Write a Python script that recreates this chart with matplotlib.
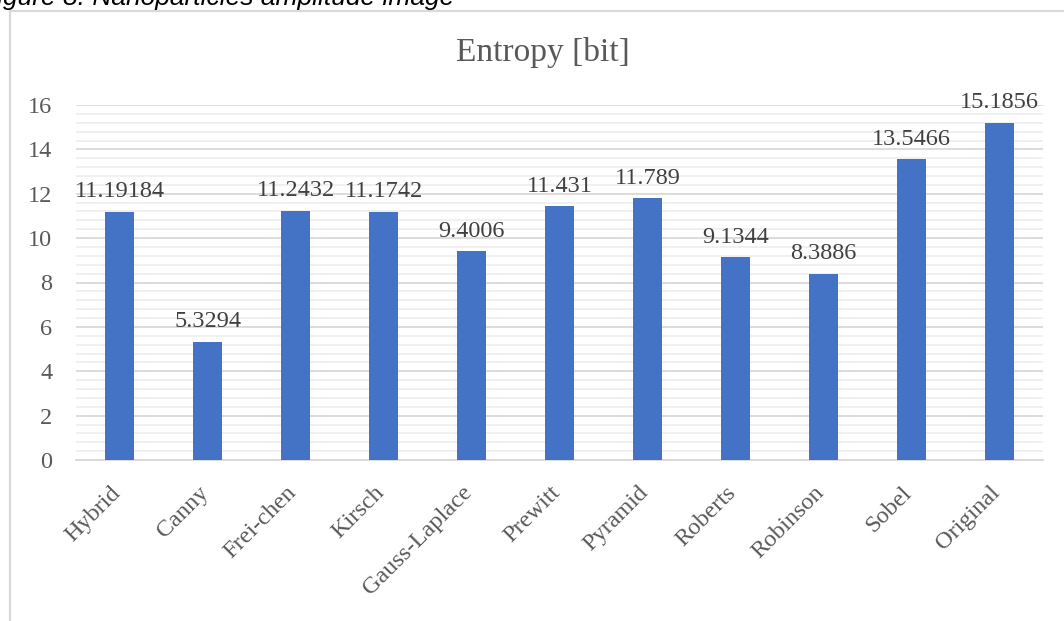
import matplotlib.pyplot as plt
from matplotlib.ticker import MultipleLocator
from matplotlib.lines import Line2D
from matplotlib.transforms import ScaledTranslation

# 数据
methods = ['Hybrid', 'Canny', 'Frei-chen', 'Kirsch', 'Gauss-Laplace', 'Prewitt',
           'Pyramid', 'Roberts', 'Robinson', 'Sobel', 'Original']
entropy = [11.19184, 5.3294, 11.2432, 11.1742, 9.4006, 11.431,
           11.789, 9.1344, 8.3886, 13.5466, 15.1856]
labels = ['11.19184', '5.3294', '11.2432', '11.1742', '9.4006', '11.431',
          '11.789', '9.1344', '8.3886', '13.5466', '15.1856']

W, H = 1064, 621
fig = plt.figure(figsize=(W / 100, H / 100), dpi=100)

serif = ['Liberation Serif', 'DejaVu Serif']
gray = '#595959'
fs = 17.5

ax = fig.add_axes([76 / W, 1 - 460 / H, (1043 - 76) / W, (460 - 105) / H])
x = list(range(len(methods)))
ax.bar(x, entropy, width=0.33, color='#4472C4', zorder=3)

for xi, v, s in zip(x, entropy, labels):
    ax.annotate(s, (xi, v), xytext=(0, 7), textcoords='offset points',
                ha='center', va='bottom', fontsize=fs, family=serif, color='#404040')

ax.set_xlim(-0.5, len(methods) - 0.5)
ax.set_ylim(0, 16)
ax.yaxis.set_major_locator(MultipleLocator(2))
ax.yaxis.set_minor_locator(MultipleLocator(0.4))
ax.grid(axis='y', which='major', color='#d9d9d9', linewidth=1.3, zorder=0)
ax.grid(axis='y', which='minor', color='#efefef', linewidth=1.3, zorder=0)
for side in ['top', 'right', 'left']:
    ax.spines[side].set_visible(False)
ax.spines['bottom'].set_color('#d9d9d9')
ax.spines['bottom'].set_linewidth(1.3)

ax.set_xticks(x)
ax.set_xticklabels(methods, rotation=45, ha='right', rotation_mode='anchor',
                   fontsize=fs, family=serif, color=gray)
ax.tick_params(axis='x', length=0, pad=16)
shift = ScaledTranslation(-10 / 100, 0, fig.dpi_scale_trans)
for t in ax.get_xticklabels():
    t.set_transform(t.get_transform() + shift)
ax.tick_params(axis='y', which='both', length=0, pad=17, labelsize=fs, labelcolor=gray)
for t in ax.get_yticklabels():
    t.set_family(serif)

fig.text(543 / W, 1 - 53 / H, 'Entropy [bit]', ha='center', va='center',
         fontsize=24, family=serif, color=gray)

# 图注(上方被裁掉一部分)
fig.text(-19 / W, 1 - 5 / H, 'Figure 8: Nanoparticles amplitude image', ha='left',
         va='baseline', fontsize=19, style='italic',
         family=['Liberation Sans', 'DejaVu Sans'], color='black')

# 外框
fig.add_artist(Line2D([10 / W, 1], [1 - 11 / H, 1 - 11 / H], transform=fig.transFigure,
                      color='#d9d9d9', linewidth=1.6))
fig.add_artist(Line2D([10 / W, 10 / W], [0, 1 - 11 / H], transform=fig.transFigure,
                      color='#d9d9d9', linewidth=1.6))

fig.savefig('out.png', dpi=100)
